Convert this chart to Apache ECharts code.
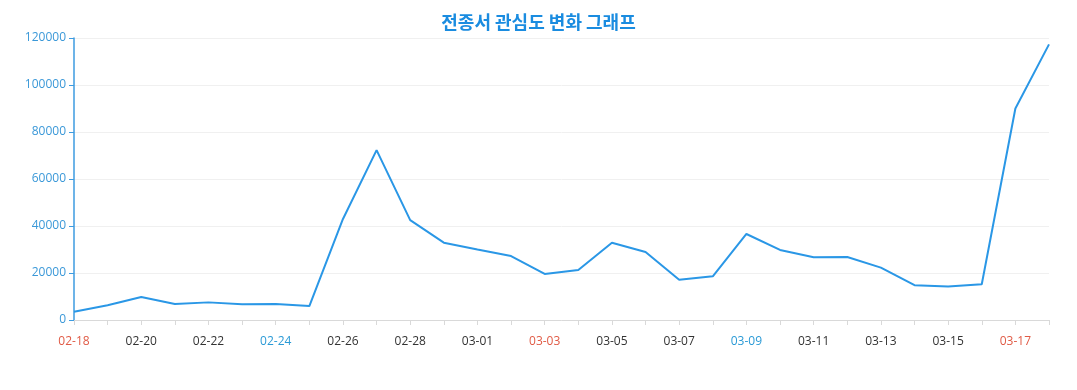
<!DOCTYPE html>
<html><head><meta charset="utf-8">
<script src="https://cdn.jsdelivr.net/npm/echarts@6/dist/echarts.min.js"></script>
<style>html,body{margin:0;padding:0;background:#fff}#c{width:1077px;height:390px}</style>
</head><body><div id="c"></div>
<script>
const titleText = '전종서 관심도 변화 그래프';
const dates = ['02-18','02-19','02-20','02-21','02-22','02-23','02-24','02-25','02-26','02-27','02-28','02-29',
  '03-01','03-02','03-03','03-04','03-05','03-06','03-07','03-08','03-09','03-10','03-11','03-12','03-13','03-14','03-15','03-16','03-17','03-18'];
const values = [3500,6300,9800,6800,7500,6700,6800,5950,43000,72300,42500,32900,
  30000,27200,19600,21300,32900,28900,17100,18600,36600,29800,26700,26800,22300,14800,14300,15200,90000,117300];
const redDates = ['02-18','03-03','03-17'];
const blueDates = ['02-24','03-09'];

const chart = echarts.init(document.getElementById('c'));
chart.setOption({
  animation: false,
  textStyle: {fontFamily: "'Open Sans','Noto Sans','Noto Sans CJK KR',sans-serif"},
  title: {text: titleText, left: 'center', top: 8,
    textStyle: {color: '#1a8ce0', fontSize: 18, fontWeight: 'bold', fontFamily: "'Noto Sans CJK KR',sans-serif"}},
  grid: {left: 74, right: 28, top: 38, bottom: 70},
  xAxis: {type: 'category', data: dates, boundaryGap: false,
    axisLine: {lineStyle: {color: '#d9d9d9'}},
    axisTick: {interval: 0, lineStyle: {color: '#d9d9d9'}},
    axisLabel: {interval: 1, margin: 16, fontSize: 12,
      color: function(v){ return redDates.includes(v) ? '#e05a45' : (blueDates.includes(v) ? '#2a9ad6' : '#333'); }}},
  yAxis: {type: 'value', min: 0, max: 120000, interval: 20000,
    axisLine: {show: true, lineStyle: {color: '#3d9be0', width: 1.5}},
    axisTick: {show: true, lineStyle: {color: '#3d9be0'}},
    axisLabel: {color: '#3a98d8', fontSize: 12, formatter: function(v){ return String(v); }},
    splitLine: {lineStyle: {color: '#f0f0f0'}}},
  series: [{type: 'line', data: values, showSymbol: false, symbol: 'none',
    lineStyle: {color: '#2a97e6', width: 2}, itemStyle: {color: '#2a97e6'}}]
});
</script></body></html>
